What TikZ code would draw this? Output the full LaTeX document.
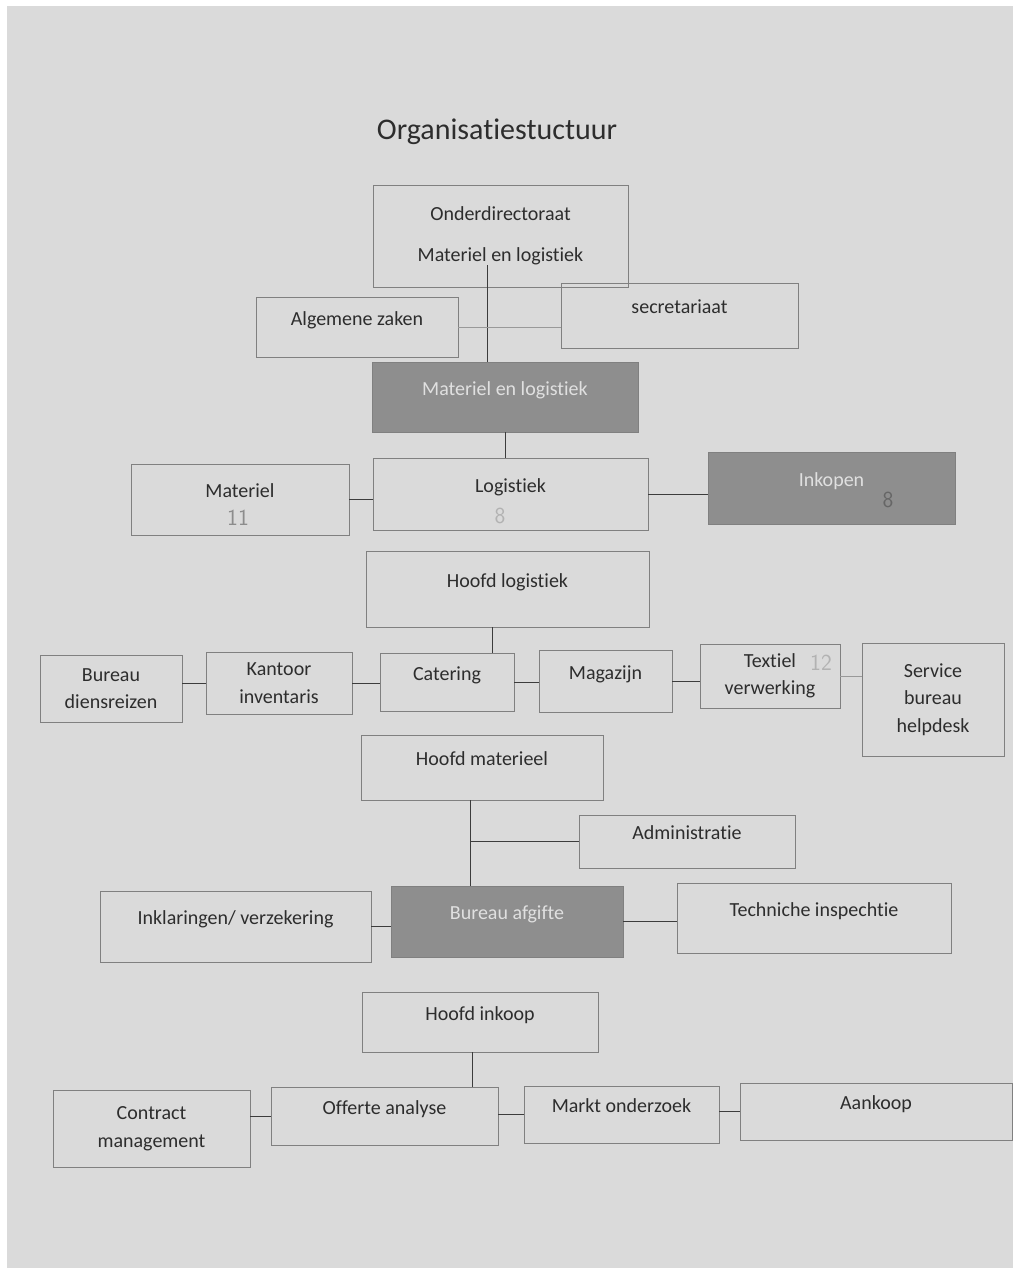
\documentclass[tikz,border=0pt]{standalone}
\usepackage{fontspec}
\setmainfont{Carlito}[Ligatures=NoCommon]
\usepackage{tikz}
\usetikzlibrary{positioning}
\usepackage{xcolor}
\definecolor{orgpaper}{RGB}{218,218,218}
\definecolor{orgline}{RGB}{128,128,128}
\definecolor{orgdark}{RGB}{142,142,142}
\definecolor{orgtext}{RGB}{45,45,45}
\definecolor{orgwire}{RGB}{60,60,60}

\begin{document}
\begin{tikzpicture}[
  x=1pt, y=-1pt,
  box/.style={draw=orgline, line width=0.9pt, align=center,
              font=\fontsize{20}{27.5}\selectfont, text=orgtext},
  darkbox/.style={box, fill=orgdark, text=black!12},
  raised/.style={text height=14pt, text depth=18pt},
  hand/.style={font=\fontsize{23}{26}\selectfont\sffamily, text=black!45},
  conn/.style={draw=orgwire, line width=0.9pt},
  faint/.style={draw=black!40, line width=0.7pt}
]
\useasboundingbox (0,0) rectangle (1015,1270);
\fill[white] (0,0) rectangle (1015,1270);
\fill[orgpaper] (7,6) rectangle (1013,1268);

\node[font=\fontsize{30}{36}\selectfont, text=orgtext] (title) at (497,132) {Organisatiestuctuur};

% top block
\node[box, minimum width=255, minimum height=102] (ond) at (500.5,236) {Onderdirectoraat\\[14pt]Materiel en logistiek};
\node[box, raised, minimum width=202, minimum height=60] (alg) at (357,327) {Algemene zaken};
\node[box, raised, minimum width=237, minimum height=65] (sec) at (679.5,315.5) {secretariaat};
\node[darkbox, raised, minimum width=266, minimum height=70] (mel) at (505,397) {Materiel en logistiek};
\node[box, raised, minimum width=218, minimum height=71] (mat) at (240,499.5) {Materiel};
\node[box, raised, minimum width=275, minimum height=72] (log) at (510.5,494) {Logistiek};
\node[darkbox, raised, minimum width=247, minimum height=72] (ink) at (831.5,488) {Inkopen};
\node[hand] (mat-n) at (238,518) {11};
\node[hand, text=black!30] (log-n) at (500,516) {8};
\node[hand, text=black!60] (ink-n) at (888,500) {8};

% logistiek
\node[box, raised, minimum width=283, minimum height=76] (hlog) at (507.5,589) {Hoofd logistiek};
\node[box, minimum width=142, minimum height=67] (bdr) at (111,688.5) {Bureau\\diensreizen};
\node[box, minimum width=146, minimum height=62] (kin) at (279,683) {Kantoor\\inventaris};
\node[box, raised, minimum width=134, minimum height=58] (cat) at (447,682) {Catering};
\node[box, raised, minimum width=133, minimum height=62] (mag) at (605.5,681) {Magazijn};
\node[box, minimum width=140, minimum height=64] (tex) at (770,676) {Textiel\\verwerking};
\node[box, minimum width=142, minimum height=113] (srv) at (933,699.5) {Service\\bureau\\helpdesk};
\node[hand, text=black!30] (tex-n) at (821,663) {12};

% materieel
\node[box, raised, minimum width=242, minimum height=65] (hmat) at (482,767.5) {Hoofd materieel};
\node[box, raised, minimum width=216, minimum height=53] (adm) at (687,841.5) {Administratie};
\node[darkbox, raised, minimum width=232, minimum height=71] (baf) at (507,921.5) {Bureau afgifte};
\node[box, raised, minimum width=271, minimum height=71] (inkl) at (235.5,926.5) {Inklaringen/ verzekering};
\node[box, raised, minimum width=274, minimum height=70] (tec) at (814,918) {Techniche inspechtie};

% inkoop
\node[box, raised, minimum width=236, minimum height=60] (hink) at (480,1022) {Hoofd inkoop};
\node[box, minimum width=197, minimum height=77] (con) at (151.5,1128.5) {Contract\\management};
\node[box, raised, minimum width=227, minimum height=58] (off) at (384.5,1116) {Offerte analyse};
\node[box, raised, minimum width=195, minimum height=57] (mkt) at (621.5,1114.5) {Markt onderzoek};
\node[box, raised, minimum width=272, minimum height=57] (aan) at (876,1111.5) {Aankoop};

\coordinate (ond-s) at (487,265);
\draw[conn] (ond-s) -- (ond-s |- mel.north);
\draw[faint] (alg.east) -- (alg.east -| sec.west);
\draw[conn] (mel.south) -- (mel.south |- log.north);
\draw[conn] (mat.east) -- (mat.east -| log.west);
\draw[conn] (log.east) -- (log.east -| ink.west);

\draw[conn] ([xshift=-15pt]hlog.south) -- ([xshift=-15pt]hlog.south |- cat.north);
\draw[conn] (kin.west -| bdr.east) -- (kin.west);
\draw[conn] (kin.east) -- (kin.east -| cat.west);
\draw[conn] (cat.east) -- (cat.east -| mag.west);
\draw[conn] (mag.east) -- (mag.east -| tex.west);
\draw[faint] (tex.east) -- (tex.east -| srv.west);

\coordinate (hmat-s) at ([xshift=-12pt]hmat.south);
\draw[conn] (hmat-s) -- (hmat-s |- baf.north);
\draw[conn] (adm.west -| hmat-s) -- (adm.west);
\draw[conn] (inkl.east) -- (inkl.east -| baf.west);
\draw[conn] (baf.east) -- (baf.east -| tec.west);

\draw[conn] ([xshift=-8pt]hink.south) -- ([xshift=-8pt]hink.south |- off.north);
\draw[conn] (off.west -| con.east) -- (off.west);
\draw[conn] (mkt.west -| off.east) -- (mkt.west);
\draw[conn] (aan.west -| mkt.east) -- (aan.west);
\end{tikzpicture}
\end{document}
